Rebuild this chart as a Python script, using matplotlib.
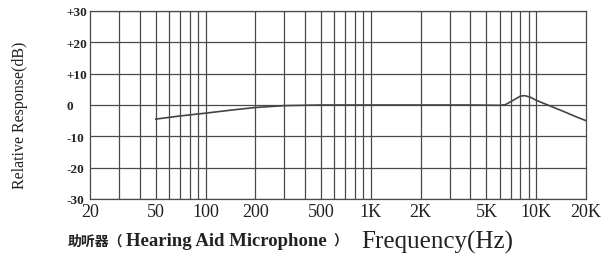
import numpy as np
import matplotlib.pyplot as plt

# frequency response
freq = [50, 70, 100, 150, 200, 300, 500, 1000, 2000, 4000, 6000, 6500,
        7200, 8000, 8500, 9200, 10000, 12000, 15000, 17500, 20000]
resp = [-4.5, -3.5, -2.6, -1.5, -0.8, -0.2, 0.0, 0.0, 0.0, 0.0, -0.1, 0.1,
        1.4, 2.8, 3.0, 2.5, 1.5, -0.2, -2.3, -3.8, -5.0]

xticks = [20, 50, 100, 200, 500, 1000, 2000, 5000, 10000, 20000]
xlabels = ['20', '50', '100', '200', '500', '1K', '2K', '5K', '10K', '20K']
yticks = [-30, -20, -10, 0, 10, 20, 30]
ylabels = ['-30', '-20', '-10', '0', '+10', '+20', '+30']
vgrid = [30, 40, 50, 60, 70, 80, 90, 100, 200, 300, 400, 500, 600, 700, 800,
         900, 1000, 2000, 3000, 4000, 5000, 6000, 7000, 8000, 9000, 10000]

serif = ['Liberation Serif', 'Noto Sans CJK SC']
gc = '#4a4a4a'
tc = '#222222'

fig = plt.figure(figsize=(6.06, 2.55), dpi=100)
ax = fig.add_axes([90 / 606, 55 / 255, 496 / 606, 188 / 255])

for f in vgrid:
    ax.axvline(f, color=gc, lw=0.9, zorder=1)
ax.plot(freq, resp, color='#444444', lw=1.2, zorder=3)
ax.set_xscale('log')
ax.set_xlim(20, 20000)
ax.set_ylim(-30, 30)

ax.set_xticks(xticks)
ax.set_xticklabels(xlabels, family=serif, fontsize=13, color=tc)
ax.xaxis.set_minor_locator(plt.NullLocator())
ax.set_yticks(yticks)
ax.set_yticklabels(ylabels, family=serif, fontsize=9.5, ha='left', color=tc,
                   fontweight='bold')
ax.tick_params(axis='both', which='both', length=0)
ax.tick_params(axis='x', pad=3)
ax.tick_params(axis='y', pad=17)

ax.grid(True, axis='y', which='major', color=gc, lw=0.9)
for s in ax.spines.values():
    s.set_color(gc)
    s.set_linewidth(0.9)

fig.text(20 / 606, 1 - 115 / 255, 'Relative Response(dB)', rotation=90,
         family=serif, fontsize=11.5, ha='center', va='center', color=tc)
fig.text(68 / 606, 1 - 242 / 255, '助听器（', family=serif, fontsize=10,
         fontweight='bold', ha='left', va='center', color=tc)
fig.text(126 / 606, 1 - 242 / 255, 'Hearing Aid Microphone', family=serif,
         fontsize=13.5, fontweight='bold', ha='left', va='center', color=tc)
fig.text(333 / 606, 1 - 242 / 255, '）', family=serif, fontsize=10,
         fontweight='bold', ha='left', va='center', color=tc)
fig.text(361 / 606, 1 - 242 / 255, 'Frequency(Hz)', family=serif,
         fontsize=18, ha='left', va='center', color=tc)

fig.savefig('out.png', dpi=100)
